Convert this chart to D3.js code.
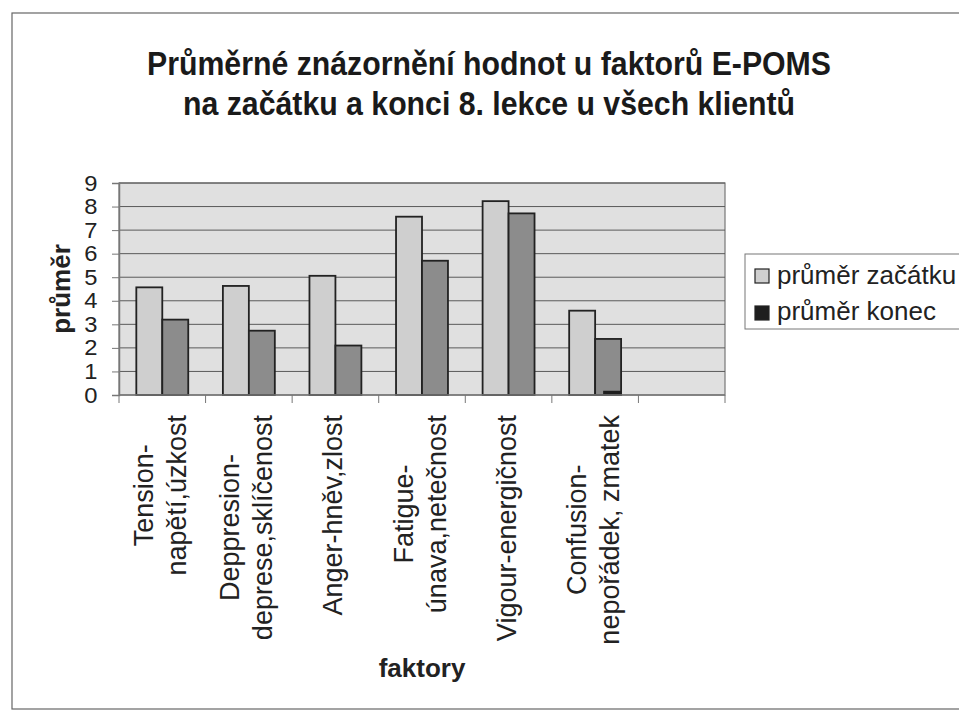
<!DOCTYPE html>
<html>
<head>
<meta charset="utf-8">
<script src="https://cdn.jsdelivr.net/npm/d3@7"></script>
<style>
  body { margin: 0; background: #fff; }
  svg { font-family: "Liberation Sans", Arial, sans-serif; }
</style>
</head>
<body>
<div id="chart"></div>
<script>
// --------------------------------------------------------------------------------------
// data
// --------------------------------------------------------------------------------------
var categories = [
  ["Tension-", "napětí,úzkost"],
  ["Deppresion-", "deprese,sklíčenost"],
  ["Anger-hněv,zlost"],
  ["Fatigue-", "únava,netečnost"],
  ["Vigour-energičnost"],
  ["Confusion-", "nepořádek, zmatek"],
  []                                   // empty slot at the end of the axis
];
var prumer_zacatku = [4.57, 4.63, 5.06, 7.57, 8.23, 3.58];
var prumer_konec   = [3.2, 2.73, 2.1, 5.7, 7.71, 2.38];
var artefakt       = [0, 0, 0, 0, 0, 0.18];   // small black block in the last bar
var series_names = ["průměr začátku", "průměr konec"];
var y_ticks = [0, 1, 2, 3, 4, 5, 6, 7, 8, 9];
var title_lines = ["Průměrné znázornění hodnot u faktorů E-POMS",
                   "na začátku a konci 8. lekce u všech klientů"];

// --------------------------------------------------------------------------------------
// draw graph
// --------------------------------------------------------------------------------------
function graph()
{
  var W = 959, H = 715;
  var plot = {left: 119, right: 725, top: 183, bottom: 395};

  var svg = d3.select("#chart").append("svg")
      .attr("width", W)
      .attr("height", H);

  // outer frame of the chart
  svg.append("rect")
    .attr("x", 12).attr("y", 13)
    .attr("width", W + 20).attr("height", 696)
    .attr("fill", "none")
    .attr("stroke", "#666")
    .attr("stroke-width", 1.2);

  // ==========================================================
  // scales
  var keys = categories.map(function(d, i) { return "c" + i; });
  var x0 = d3.scaleBand().domain(keys).range([plot.left, plot.right]);
  var x1 = d3.scaleBand().domain([0, 1]).range([0, x0.bandwidth()]).paddingOuter(0.667);
  var y = d3.scaleLinear().domain([0, 9]).range([plot.bottom, plot.top]);

  // plot background
  svg.append("rect")
    .attr("x", plot.left).attr("y", plot.top)
    .attr("width", plot.right - plot.left)
    .attr("height", plot.bottom - plot.top)
    .attr("fill", "#e0e0e0")
    .attr("stroke", "#777")
    .attr("stroke-width", 1.2);

  // gridlines
  svg.append("g")
    .selectAll("line")
    .data(y_ticks.slice(1))
    .enter().append("line")
      .attr("x1", plot.left).attr("x2", plot.right)
      .attr("y1", function(d) { return y(d); })
      .attr("y2", function(d) { return y(d); })
      .attr("stroke", "#5a5a5a")
      .attr("stroke-width", 1);

  // ==========================================================
  // bars
  var rows = prumer_zacatku.map(function(v, i) {
    return {key: keys[i], values: [v, prumer_konec[i]], extra: artefakt[i]};
  });
  var fills = ["#cfcfcf", "#8c8c8c"];

  var groups = svg.append("g").selectAll("g")
    .data(rows)
    .enter().append("g")
      .attr("transform", function(d) { return "translate(" + x0(d.key) + ",0)"; });

  groups.selectAll("rect")
    .data(function(d) { return d.values; })
    .enter().append("rect")
      .attr("x", function(d, i) { return x1(i); })
      .attr("width", x1.bandwidth())
      .attr("y", function(d) { return y(d); })
      .attr("height", function(d) { return y(0) - y(d); })
      .attr("fill", function(d, i) { return fills[i]; })
      .attr("stroke", "#222")
      .attr("stroke-width", 1.8);

  groups.filter(function(d) { return d.extra > 0; })
    .append("rect")
      .attr("x", x1(1) + 8)
      .attr("width", x1.bandwidth() - 8)
      .attr("y", function(d) { return y(d.extra); })
      .attr("height", function(d) { return y(0) - y(d.extra); })
      .attr("fill", "#1e1e1e");

  // ==========================================================
  // axes
  var yAxis = svg.append("g")
      .attr("transform", "translate(" + plot.left + ",0)")
      .call(d3.axisLeft(y).tickValues(y_ticks).tickSize(7).tickPadding(13));
  yAxis.select(".domain").attr("stroke", "#777").attr("stroke-width", 1.5);
  yAxis.selectAll(".tick line").attr("stroke", "#777");
  yAxis.selectAll("text")
    .attr("font-size", 22)
    .attr("transform", "scale(1.08,1)")
    .attr("fill", "#222");

  var xBounds = keys.map(function(k) { return x0(k); }).concat([plot.right]);
  var xAxis = svg.append("g");
  xAxis.append("line")
    .attr("x1", plot.left).attr("x2", plot.right)
    .attr("y1", plot.bottom).attr("y2", plot.bottom)
    .attr("stroke", "#777").attr("stroke-width", 1.5);
  xAxis.selectAll(".xt")
    .data(xBounds)
    .enter().append("line")
      .attr("class", "xt")
      .attr("x1", function(d) { return d; }).attr("x2", function(d) { return d; })
      .attr("y1", plot.bottom).attr("y2", plot.bottom + 8)
      .attr("stroke", "#777");

  // rotated category labels, lines centered on each other, top aligned below the axis
  var label_top = 415, line_gap = 33, fs = 27;
  categories.forEach(function(lines, i) {
    if (!lines.length) return;
    var cx = x0(keys[i]) + x0.bandwidth() / 2;
    var g = svg.append("g");
    var texts = lines.map(function(t, j) {
      return g.append("text")
        .attr("font-size", fs)
        .attr("fill", "#222")
        .attr("text-anchor", "middle")
        .text(t);
    });
    var longest = d3.max(texts, function(t) { return t.node().getComputedTextLength(); });
    texts.forEach(function(t, j) {
      var bx = cx + 7 + (j - (lines.length - 1) / 2) * line_gap;
      t.attr("transform", "translate(" + bx + "," + (label_top + longest / 2) + ") rotate(-90)");
    });
  });

  // ==========================================================
  // axis titles
  svg.append("text")
    .attr("transform", "translate(70," + ((plot.top + plot.bottom) / 2) + ") rotate(-90)")
    .attr("text-anchor", "middle")
    .attr("font-size", 26)
    .attr("font-weight", "bold")
    .attr("fill", "#222")
    .text("průměr");

  svg.append("text")
    .attr("x", (plot.left + plot.right) / 2)
    .attr("y", 677)
    .attr("text-anchor", "middle")
    .attr("font-size", 26)
    .attr("font-weight", "bold")
    .attr("fill", "#222")
    .text("faktory");

  // graph title - narrow bold look of the original
  svg.selectAll(".title")
    .data(title_lines)
    .enter().append("text")
      .attr("class", "title")
      .attr("transform", function(d, i) { return "translate(489," + (75 + i * 40) + ") scale(0.89,1)"; })
      .attr("text-anchor", "middle")
      .attr("font-size", 34)
      .attr("font-weight", "bold")
      .attr("fill", "#1a1a1a")
      .text(function(d) { return d; });

  // ==========================================================
  // legend
  var lg = svg.append("g").attr("transform", "translate(745,254)");
  lg.append("rect")
    .attr("width", 240).attr("height", 75)
    .attr("fill", "#fff")
    .attr("stroke", "#777");
  var lfill = ["#cfcfcf", "#1e1e1e"];
  series_names.forEach(function(name, i) {
    lg.append("rect")
      .attr("x", 10).attr("y", 15 + i * 37)
      .attr("width", 14).attr("height", 14)
      .attr("fill", lfill[i])
      .attr("stroke", "#222")
      .attr("stroke-width", 1.2);
    lg.append("text")
      .attr("x", 32).attr("y", 30 + i * 36)
      .attr("font-size", 26)
      .attr("fill", "#222")
      .text(name);
  });
}
// --------------------------------------------------------------------------------------
graph()
// --------------------------------------------------------------------------------------
</script>
</body>
</html>
